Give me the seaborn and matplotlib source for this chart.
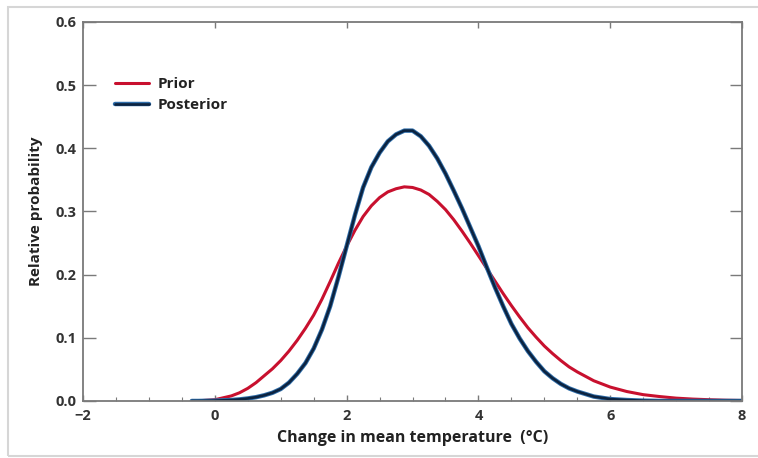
import numpy as np
import pandas as pd
import matplotlib
matplotlib.use("Agg")
import matplotlib.pyplot as plt
import matplotlib.patheffects as pe
from matplotlib.patches import Rectangle
from matplotlib.ticker import MultipleLocator
import seaborn as sns

# values
temp_change = [-0.35, -0.25, 0.0, 0.25, 0.375, 0.5, 0.625, 0.75, 0.875,
               1.0, 1.125, 1.25, 1.375, 1.5, 1.625, 1.75, 1.875,
               2.0, 2.125, 2.25, 2.375, 2.5, 2.625, 2.75, 2.875,
               3.0, 3.125, 3.25, 3.375, 3.5, 3.625, 3.75, 3.875,
               4.0, 4.125, 4.25, 4.375, 4.5, 4.625, 4.75, 4.875, 5.0,
               5.125, 5.25, 5.375, 5.5, 5.75, 6.0, 6.25, 6.5, 6.75, 7.0, 7.25, 7.5, 7.75, 8.0]
prior = [0.0, 0.0003, 0.002, 0.008, 0.013, 0.020, 0.029, 0.040, 0.051,
         0.064, 0.079, 0.096, 0.115, 0.136, 0.161, 0.189, 0.218,
         0.245, 0.270, 0.292, 0.309, 0.322, 0.331, 0.336, 0.339,
         0.338, 0.334, 0.327, 0.316, 0.303, 0.287, 0.269, 0.250,
         0.230, 0.210, 0.190, 0.170, 0.151, 0.133, 0.116, 0.101, 0.087,
         0.075, 0.064, 0.054, 0.046, 0.032, 0.022, 0.015, 0.010, 0.007, 0.0045, 0.003, 0.002, 0.0012, 0.0008]
posterior = [0.0, 0.0, 0.0005, 0.0015, 0.0025, 0.004, 0.006, 0.009, 0.013,
             0.019, 0.029, 0.043, 0.060, 0.083, 0.113, 0.150, 0.196,
             0.245, 0.294, 0.338, 0.370, 0.393, 0.411, 0.422, 0.428,
             0.428, 0.419, 0.404, 0.384, 0.360, 0.333, 0.305, 0.275,
             0.245, 0.212, 0.180, 0.150, 0.122, 0.099, 0.079, 0.062, 0.047,
             0.036, 0.027, 0.020, 0.015, 0.007, 0.003, 0.0015, 0.0005, 0.0, 0.0, 0.0, 0.0, 0.0, 0.0]

series_names = ["Prior", "Posterior"]
colors = {"Prior": "#c8102e", "Posterior": "#0c2340"}

df = pd.DataFrame({
    "x": temp_change * 2,
    "y": prior + posterior,
    "curve": ["Prior"] * len(prior) + ["Posterior"] * len(posterior),
})

sns.set_theme(style="ticks")
plt.rcParams["font.family"] = ["Open Sans", "DejaVu Sans"]

fig = plt.figure(figsize=(7.58, 4.58), dpi=100)
ax = fig.add_axes([0.1095, 0.1245, 0.8695, 0.8275])

# thin grey frame around the picture
fig.patches.append(Rectangle((0.011, 0.004), 1.2, 0.981, transform=fig.transFigure,
                             fill=False, edgecolor="#d6d6d6", linewidth=1.5))

post_fx = [pe.Stroke(linewidth=3.2, foreground="#2f6eaa"), pe.Normal()]

sns.lineplot(data=df, x="x", y="y", hue="curve", hue_order=series_names,
             palette=colors, linewidth=2.2, ax=ax, legend=False)
lines = ax.get_lines()
lines[1].set_linewidth(1.9)
lines[1].set_path_effects(post_fx)

ax.set_xlim(-2, 8)
ax.set_ylim(0, 0.6)
ax.xaxis.set_major_locator(MultipleLocator(2))
ax.xaxis.set_minor_locator(MultipleLocator(0.5))
ax.yaxis.set_major_locator(MultipleLocator(0.1))
ax.set_xticklabels([f"{v:g}".replace("-", "\u2212") for v in ax.get_xticks()])
ax.set_yticklabels([f"{v:.1f}" for v in ax.get_yticks()])

for s in ax.spines.values():
    s.set_color("#7a7a7a")
    s.set_linewidth(1.3)

ax.tick_params(axis="y", which="major", direction="in", length=9, width=1.0,
               color="#7a7a7a", left=True, right=True, pad=5,
               labelsize=10.5, labelcolor="#333333")
ax.tick_params(axis="x", which="major", direction="in", length=4, width=1.0,
               color="#7a7a7a", bottom=True, top=True, pad=6,
               labelsize=10.5, labelcolor="#333333")
ax.tick_params(axis="x", which="minor", direction="in", length=3, width=0.8,
               color="#7a7a7a", bottom=True, top=False)
for lbl in ax.get_xticklabels() + ax.get_yticklabels():
    lbl.set_fontweight("bold")

ax.set_xlabel("Change in mean temperature  (\u00b0C)", fontsize=11.5, fontweight="bold",
              color="#222222", labelpad=5)
ax.set_ylabel("Relative probability", fontsize=11, fontweight="bold",
              color="#222222", labelpad=9)

handles = [plt.Line2D([], [], color=colors["Prior"], linewidth=2.2),
           plt.Line2D([], [], color=colors["Posterior"], linewidth=1.9, path_effects=post_fx)]
leg = ax.legend(handles, series_names, loc="upper left", bbox_to_anchor=(0.028, 0.89),
                frameon=False, handlelength=2.2, handletextpad=0.6, labelspacing=0.45,
                prop={"weight": "bold", "size": 11})
for t in leg.get_texts():
    t.set_color("#222222")

fig.savefig("out.png", dpi=100)
